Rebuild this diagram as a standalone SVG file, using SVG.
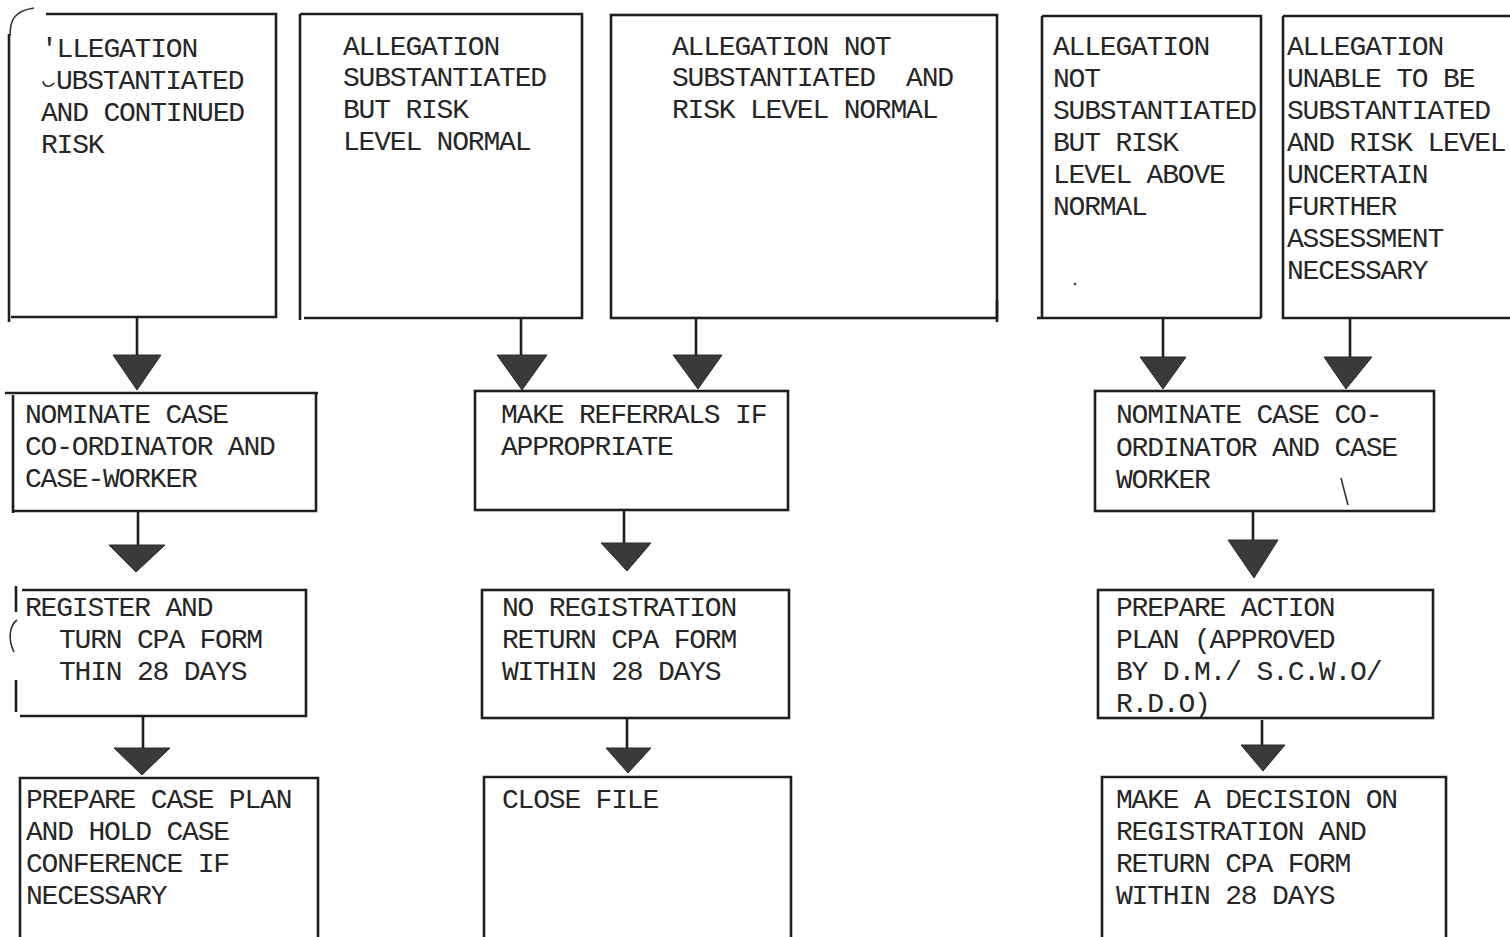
<svg xmlns="http://www.w3.org/2000/svg" width="1510" height="937" viewBox="0 0 1510 937">
  <style>
    .box { fill: none; stroke: #1e1e1e; stroke-width: 2.6; stroke-linecap: square; }
    .edge { fill: none; stroke: #1e1e1e; stroke-width: 2.6; }
    .stem { fill: none; stroke: #1e1e1e; stroke-width: 2.6; }
    .head { fill: #3a3a3a; stroke: #2a2a2a; stroke-width: 1; stroke-linejoin: round; }
    .t { font-family: "Liberation Mono", "DejaVu Sans Mono", monospace; font-size: 28px; letter-spacing: -1.2px; fill: #262626; white-space: pre; }
    .mark { fill: none; stroke: #333; stroke-width: 1.6; }
  </style>
  <rect width="1510" height="937" fill="#ffffff"/>

  <!-- top row: outcome of the investigation -->
  <g id="outcome-continued-risk">
    <path class="edge" d="M46,14 H276 V317 H11"/>
    <path class="edge" d="M9,34 V322"/>
    <path class="mark" d="M10,36 C10,20 14,11 34,8"/>
    <text class="t" x="41" y="57">'LLEGATION</text>
    <text class="t" x="56" y="89">UBSTANTIATED</text>
    <path class="mark" d="M43,81 C44,87 50,88 54,83"/>
    <text class="t" x="41" y="121">AND CONTINUED</text>
    <text class="t" x="41" y="153">RISK</text>
  </g>

  <g id="outcome-risk-normal">
    <path class="edge" d="M300,14 H582 V318 H304"/>
    <path class="edge" d="M300,14 V320"/>
    <text class="t" x="343" y="55">ALLEGATION</text>
    <text class="t" x="343" y="86">SUBSTANTIATED</text>
    <text class="t" x="343" y="118">BUT RISK</text>
    <text class="t" x="343" y="150">LEVEL NORMAL</text>
  </g>

  <g id="outcome-not-substantiated-normal">
    <rect class="box" x="611" y="15" width="386" height="303"/>
    <path class="edge" d="M997,300 V322"/>
    <text class="t" x="672" y="55">ALLEGATION NOT</text>
    <text class="t" x="672" y="86">SUBSTANTIATED  AND</text>
    <text class="t" x="672" y="118">RISK LEVEL NORMAL</text>
  </g>

  <g id="outcome-not-substantiated-above">
    <path class="edge" d="M1042,16 H1261 V318"/>
    <path class="edge" d="M1042,16 V318 M1037,318 H1261"/>
    <text class="t" x="1053" y="55">ALLEGATION</text>
    <text class="t" x="1053" y="87">NOT</text>
    <text class="t" x="1053" y="119">SUBSTANTIATED</text>
    <text class="t" x="1053" y="151">BUT RISK</text>
    <text class="t" x="1053" y="183">LEVEL ABOVE</text>
    <text class="t" x="1053" y="215">NORMAL</text>
    <circle cx="1075" cy="284" r="1.3" fill="#333"/>
  </g>

  <g id="outcome-uncertain">
    <path class="edge" d="M1283,16 H1512 M1283,16 V318 H1512"/>
    <text class="t" x="1287" y="55">ALLEGATION</text>
    <text class="t" x="1287" y="87">UNABLE TO BE</text>
    <text class="t" x="1287" y="119">SUBSTANTIATED</text>
    <text class="t" x="1287" y="151">AND RISK LEVEL</text>
    <text class="t" x="1287" y="183">UNCERTAIN</text>
    <text class="t" x="1287" y="215">FURTHER</text>
    <text class="t" x="1287" y="247">ASSESSMENT</text>
    <text class="t" x="1287" y="279">NECESSARY</text>
  </g>

  <!-- second row -->
  <g id="nominate-coordinator">
    <path class="edge" d="M5,393 H318 M316,393 V511 H14"/>
    <path class="edge" d="M13,395 V513"/>
    <text class="t" x="25" y="423">NOMINATE CASE</text>
    <text class="t" x="25" y="455">CO-ORDINATOR AND</text>
    <text class="t" x="25" y="487">CASE-WORKER</text>
  </g>

  <g id="make-referrals">
    <rect class="box" x="475" y="391" width="313" height="119"/>
    <text class="t" x="501" y="423">MAKE REFERRALS IF</text>
    <text class="t" x="501" y="455">APPROPRIATE</text>
  </g>

  <g id="nominate-coordinator-b">
    <rect class="box" x="1095" y="391" width="339" height="120"/>
    <text class="t" x="1116" y="423">NOMINATE CASE CO-</text>
    <text class="t" x="1116" y="456">ORDINATOR AND CASE</text>
    <text class="t" x="1116" y="488">WORKER</text>
    <path class="mark" d="M1341,478 L1348,505"/>
  </g>

  <!-- third row -->
  <g id="register">
    <path class="edge" d="M22,590 H306 V716 H20"/>
    <path class="edge" d="M16,586 V612 M16,680 V712"/>
    <path class="mark" d="M17,620 C9,626 8,640 14,652"/>
    <text class="t" x="25" y="616">REGISTER AND</text>
    <text class="t" x="59" y="648">TURN CPA FORM</text>
    <text class="t" x="59" y="680">THIN 28 DAYS</text>
  </g>

  <g id="no-registration">
    <rect class="box" x="482" y="590" width="307" height="128"/>
    <text class="t" x="502" y="616">NO REGISTRATION</text>
    <text class="t" x="502" y="648">RETURN CPA FORM</text>
    <text class="t" x="502" y="680">WITHIN 28 DAYS</text>
  </g>

  <g id="action-plan">
    <rect class="box" x="1098" y="590" width="335" height="128"/>
    <text class="t" x="1116" y="616">PREPARE ACTION</text>
    <text class="t" x="1116" y="648">PLAN (APPROVED</text>
    <text class="t" x="1116" y="680">BY D.M./ S.C.W.O/</text>
    <text class="t" x="1116" y="712">R.D.O)</text>
  </g>

  <!-- fourth row -->
  <g id="case-plan">
    <path class="edge" d="M20,940 V778 H318 V940"/>
    <text class="t" x="26" y="808">PREPARE CASE PLAN</text>
    <text class="t" x="26" y="840">AND HOLD CASE</text>
    <text class="t" x="26" y="872">CONFERENCE IF</text>
    <text class="t" x="26" y="904">NECESSARY</text>
  </g>

  <g id="close-file">
    <path class="edge" d="M484,940 V777 H791 V940"/>
    <text class="t" x="502" y="808">CLOSE FILE</text>
  </g>

  <g id="decision">
    <path class="edge" d="M1102,940 V777 H1446 V940"/>
    <text class="t" x="1116" y="808">MAKE A DECISION ON</text>
    <text class="t" x="1116" y="840">REGISTRATION AND</text>
    <text class="t" x="1116" y="872">RETURN CPA FORM</text>
    <text class="t" x="1116" y="904">WITHIN 28 DAYS</text>
  </g>

  <!-- connectors: a stem plus a solid wedge head -->
  <g id="connectors">
    <path class="stem" d="M137,318 V356"/>
    <path class="head" d="M113,355 H161 L137,390 Z"/>
    <path class="stem" d="M521,318 V356"/>
    <path class="head" d="M497,355 H547 L522,390 Z"/>
    <path class="stem" d="M696,318 V356"/>
    <path class="head" d="M673,355 H722 L698,389 Z"/>
    <path class="stem" d="M1163,318 V358"/>
    <path class="head" d="M1140,357 H1186 L1163,389 Z"/>
    <path class="stem" d="M1350,318 V358"/>
    <path class="head" d="M1324,357 H1372 L1346,389 Z"/>

    <path class="stem" d="M138,511 V546"/>
    <path class="head" d="M109,545 H165 L136,572 Z"/>
    <path class="stem" d="M624,510 V544"/>
    <path class="head" d="M601,543 H651 L627,571 Z"/>
    <path class="stem" d="M1253,511 V541"/>
    <path class="head" d="M1228,540 H1278 L1254,578 Z"/>

    <path class="stem" d="M143,716 V749"/>
    <path class="head" d="M114,748 H170 L142,775 Z"/>
    <path class="stem" d="M627,718 V749"/>
    <path class="head" d="M606,748 H651 L628,773 Z"/>
    <path class="stem" d="M1262,720 V746"/>
    <path class="head" d="M1241,745 H1285 L1263,771 Z"/>
  </g>
</svg>
